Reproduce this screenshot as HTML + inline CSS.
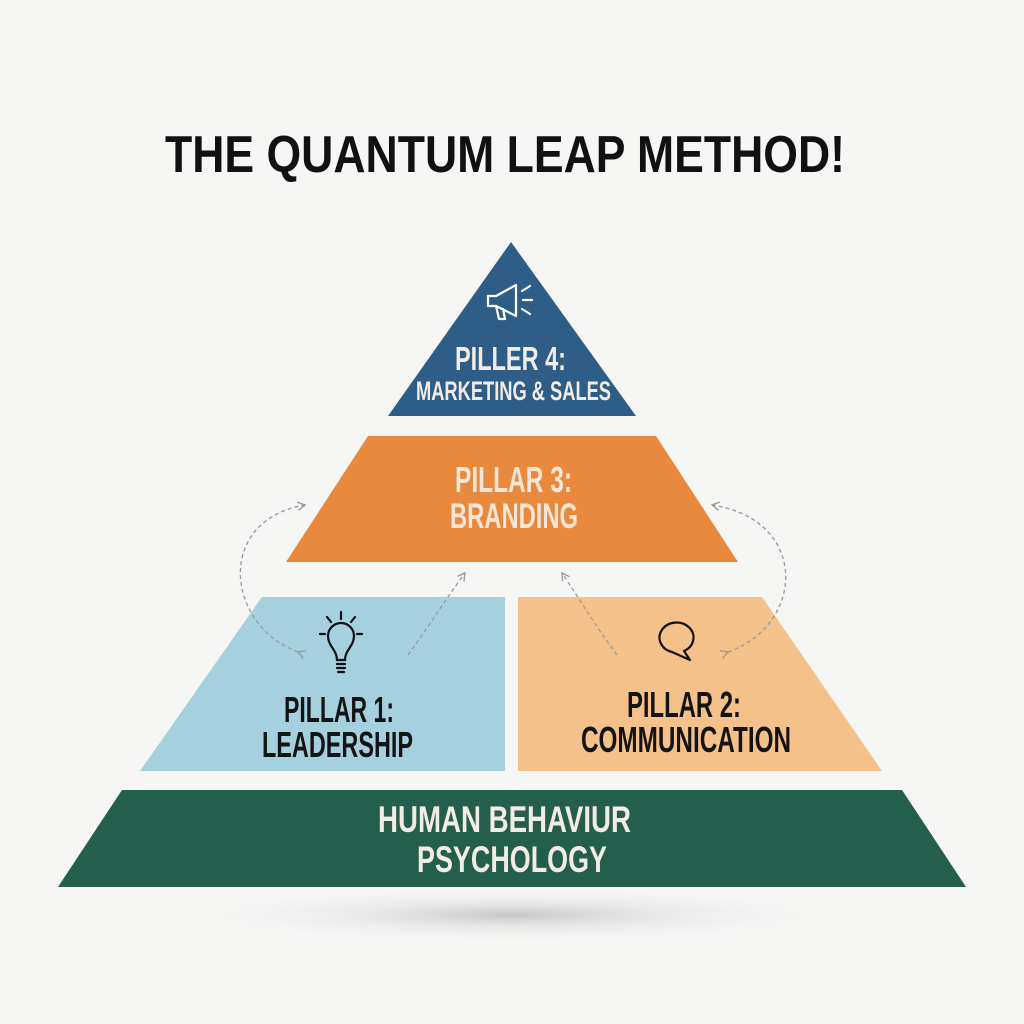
<!DOCTYPE html>
<html><head><meta charset="utf-8"><style>
html,body{margin:0;padding:0;background:#f6f6f5;}
svg{display:block}
text{font-family:"Liberation Sans Narrow","Liberation Sans",sans-serif;font-weight:bold;}
</style></head><body>
<svg width="1024" height="1024" viewBox="0 0 1024 1024" xmlns="http://www.w3.org/2000/svg">
<defs>
<radialGradient id="sh" cx="0.5" cy="0.5" r="0.5">
<stop offset="0" stop-color="#c8c8c8"/><stop offset="1" stop-color="#f6f6f5" stop-opacity="0"/>
</radialGradient>
<marker id="ah" viewBox="0 0 10 10" refX="8" refY="5" markerWidth="8" markerHeight="8" orient="auto">
<path d="M1,1 L8,5 L1,9" fill="none" stroke="#999" stroke-width="1.3"/>
</marker>
</defs>
<rect width="1024" height="1024" fill="#f6f6f5"/>
<ellipse cx="512" cy="915" rx="330" ry="28" fill="url(#sh)"/>

<text x="165" y="172" font-size="52" fill="#111" textLength="680" lengthAdjust="spacingAndGlyphs">THE QUANTUM LEAP METHOD!</text>

<polygon points="511,242 636,416 388,416" fill="#2e5e88"/>
<polygon points="368,436 656,436 738,562 286,562" fill="#e8893e"/>
<polygon points="262,597 505,597 505,771 140,771" fill="#a5d0de"/>
<polygon points="518,597 762,597 882,771 518,771" fill="#f5c18b"/>
<polygon points="122,790 902,790 966,887 58,887" fill="#245e4c"/>

<!-- megaphone -->
<g fill="none" stroke="#fff" stroke-width="2.2" stroke-linejoin="round" stroke-linecap="round">
<path d="M488,296 L496,296 L516,285 L516,316 L496,306 L488,306 Z"/>
<path d="M496,306 L499,319 L505,319 L503,309"/>
<path d="M522,291 L530,286 M523,300 L532,300 M522,309 L530,314"/>
</g>
<!-- bulb -->
<g fill="none" stroke="#111" stroke-width="2.2" stroke-linecap="round">
<path d="M337,660 C337,650 328,646 328,636 A13,13 0 1 1 354,636 C354,646 345,650 345,660 Z"/>
<path d="M337,664 L345,664 M337,668 L345,668 M338,672 L344,672"/>
<path d="M341,612 L341,619 M327,617 L331,622 M355,617 L351,622 M320,634 L325,634 M357,634 L362,634"/>
</g>
<!-- speech bubble -->
<path d="M672,652 A17,15 0 1 1 684,651 L690,660 Z" fill="none" stroke="#111" stroke-width="2.2" stroke-linejoin="round"/>

<!-- dashed arrows -->
<g fill="none" stroke="#9a9a9a" stroke-width="1.3" stroke-dasharray="4,3">
<path d="M298,652 C225,625 215,520 305,505" marker-end="url(#ah)" marker-start="url(#ah)"/>
<path d="M408,655 C430,625 445,600 465,573" marker-end="url(#ah)"/>
<path d="M728,652 C805,625 810,520 712,505" marker-end="url(#ah)" marker-start="url(#ah)"/>
<path d="M617,655 C595,625 580,600 562,573" marker-end="url(#ah)"/>
</g>

<g fill="#f2ece4" text-anchor="start">
<text x="455" y="370" font-size="33" textLength="111" lengthAdjust="spacingAndGlyphs">PILLER 4:</text>
<text x="416" y="400" font-size="27" textLength="195" lengthAdjust="spacingAndGlyphs">MARKETING &amp; SALES</text>
<text x="455" y="492" font-size="36" fill="#f7e6d6" textLength="117" lengthAdjust="spacingAndGlyphs">PILLAR 3:</text>
<text x="450" y="528" font-size="35" fill="#f7e6d6" textLength="128" lengthAdjust="spacingAndGlyphs">BRANDING</text>
<text x="378" y="832" font-size="37" textLength="253" lengthAdjust="spacingAndGlyphs">HUMAN BEHAVIUR</text>
<text x="417" y="872" font-size="37" textLength="190" lengthAdjust="spacingAndGlyphs">PSYCHOLOGY</text>
</g>
<g fill="#141414">
<text x="284" y="722" font-size="36" textLength="110" lengthAdjust="spacingAndGlyphs">PILLAR 1:</text>
<text x="262" y="757" font-size="36" textLength="151" lengthAdjust="spacingAndGlyphs">LEADERSHIP</text>
<text x="627" y="717" font-size="36" textLength="114" lengthAdjust="spacingAndGlyphs">PILLAR 2:</text>
<text x="581" y="752" font-size="36" textLength="210" lengthAdjust="spacingAndGlyphs">COMMUNICATION</text>
</g>
</svg>
</body></html>
